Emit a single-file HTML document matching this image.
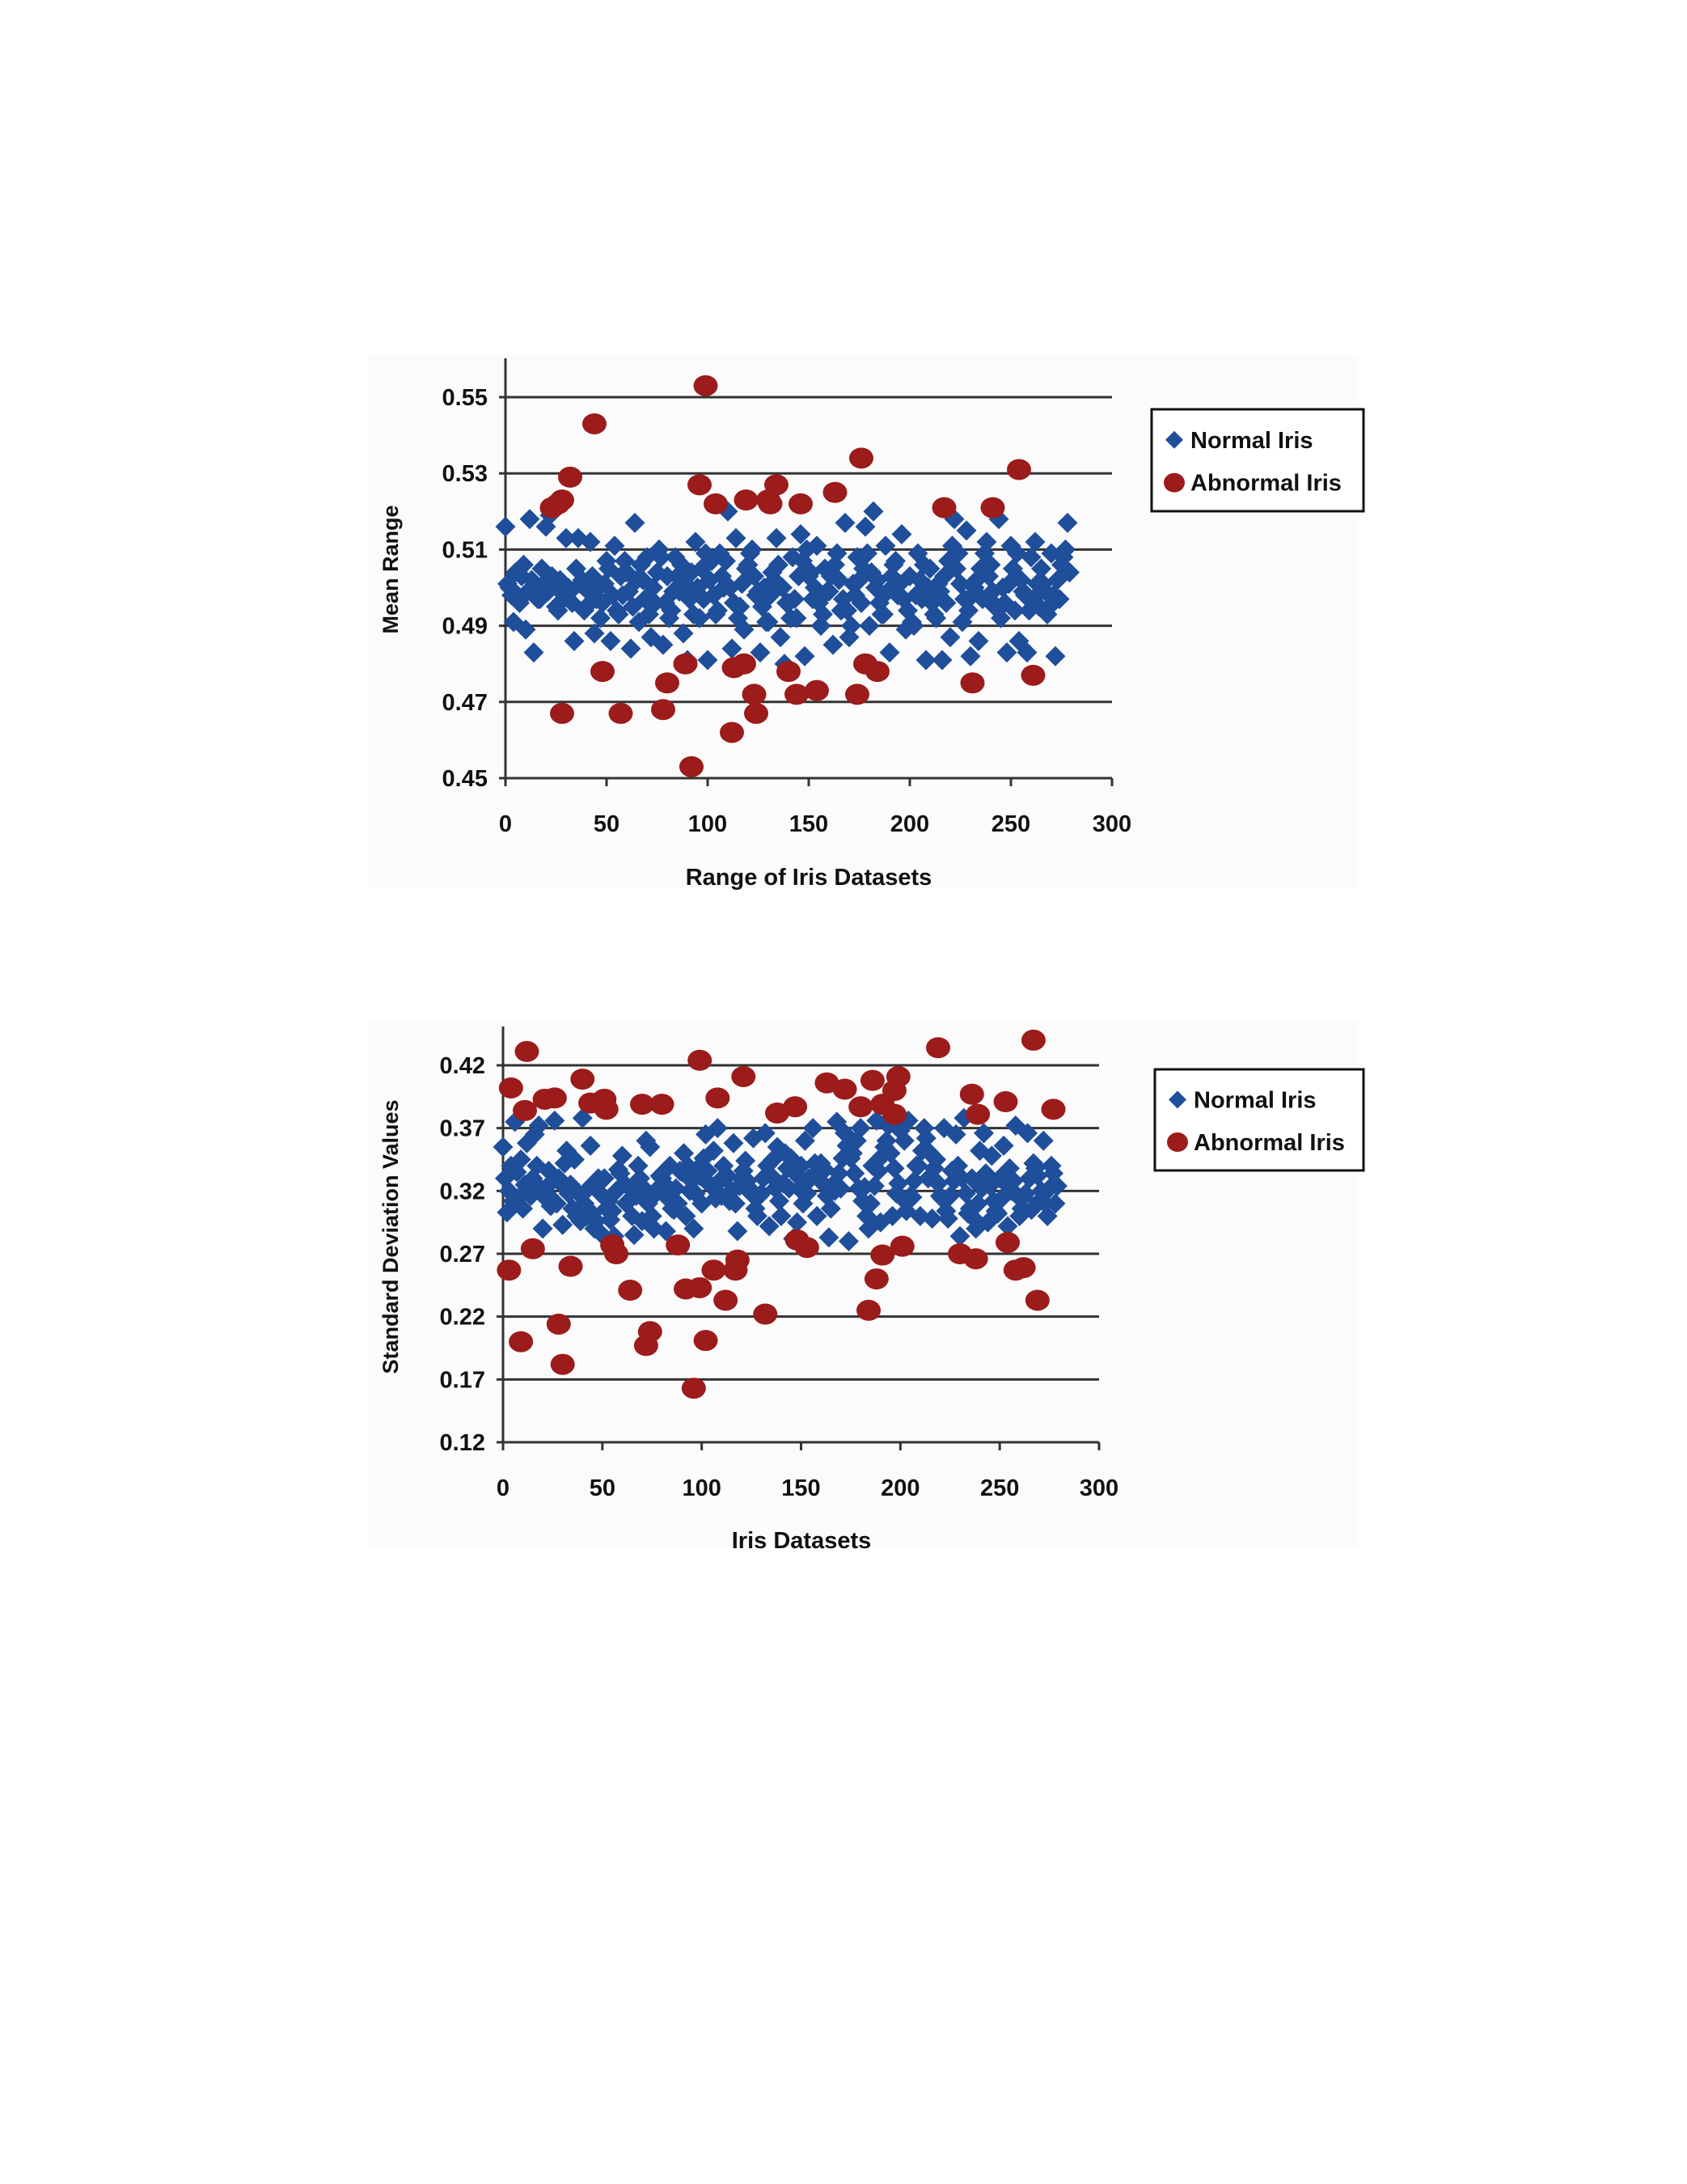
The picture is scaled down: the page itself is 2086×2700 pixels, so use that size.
<!DOCTYPE html>
<html><head><meta charset="utf-8"><style>
html,body{margin:0;padding:0;background:#fff;}
svg{display:block;}
text{font-family:"Liberation Sans",Arial,sans-serif;font-weight:bold;fill:#111;}
</style></head><body>
<svg id="root" width="2086" height="2700" viewBox="0 0 2086 2700" xmlns="http://www.w3.org/2000/svg">
<rect x="0" y="0" width="2086" height="2700" fill="#fff"/>
<rect x="455" y="438" width="1225" height="660" fill="#fbfbfb"/>
<rect x="455" y="1262" width="1225" height="650" fill="#fbfbfb"/>
<g id="c1"></g>
<g id="c2"></g>
</svg>
<script>
// ---- Chart 1 data ----
const xTicks = [0,50,100,150,200,250,300];
const c1YTicks = [0.45,0.47,0.49,0.51,0.53,0.55];
const c1YLabels = ["0.45","0.47","0.49","0.51","0.53","0.55"];
const c1NormalEven = [0.516,0.500,0.491,0.498,0.503,0.489,0.518,0.483,0.497,0.505,0.516,0.519,0.501,0.494,0.500,0.513,0.499,0.486,0.513,0.502,0.495,0.512,0.488,0.500,0.496,0.507,0.486,0.511,0.493,0.498,0.504,0.484,0.517,0.491,0.502,0.508,0.487,0.496,0.510,0.485,0.503,0.494,0.508,0.499,0.488,0.481,0.504,0.512,0.492,0.497,0.481,0.507,0.493,0.509,0.500,0.520,0.484,0.513,0.495,0.489,0.506,0.510,0.498,0.483,0.500,0.491,0.504,0.513,0.487,0.480,0.496,0.508,0.492,0.514,0.482,0.503,0.497,0.511,0.490,0.505,0.499,0.485,0.509,0.494,0.517,0.487,0.501,0.508,0.496,0.516,0.490,0.520,0.502,0.493,0.511,0.483,0.506,0.498,0.514,0.489,0.503,0.490,0.509,0.497,0.481,0.505,0.493,0.501,0.481,0.496,0.487,0.518,0.509,0.491,0.515,0.482,0.500,0.486,0.497,0.512,0.506,0.495,0.518,0.500,0.483,0.511,0.494,0.486,0.499,0.483,0.508,0.512,0.495,0.501,0.493,0.509,0.482,0.497,0.508,0.517];
const c1NormalOdd = [0.501,0.498,0.504,0.496,0.506,0.499,0.502,0.500,0.497,0.501,0.499,0.503,0.495,0.502,0.498,0.500,0.496,0.505,0.501,0.494,0.499,0.503,0.497,0.492,0.501,0.505,0.498,0.494,0.503,0.507,0.499,0.495,0.502,0.506,0.497,0.493,0.500,0.504,0.508,0.496,0.492,0.499,0.503,0.506,0.501,0.497,0.493,0.500,0.505,0.509,0.502,0.498,0.494,0.503,0.507,0.500,0.496,0.492,0.501,0.505,0.509,0.503,0.499,0.495,0.491,0.498,0.502,0.506,0.500,0.496,0.492,0.497,0.503,0.507,0.510,0.504,0.500,0.496,0.493,0.499,0.503,0.506,0.502,0.497,0.494,0.490,0.498,0.502,0.505,0.509,0.504,0.500,0.496,0.493,0.499,0.503,0.507,0.501,0.497,0.494,0.491,0.498,0.502,0.506,0.500,0.496,0.492,0.499,0.503,0.507,0.511,0.505,0.501,0.497,0.494,0.498,0.502,0.505,0.509,0.503,0.499,0.495,0.492,0.496,0.501,0.505,0.509,0.502,0.498,0.494,0.497,0.501,0.505,0.499,0.495,0.498,0.502,0.506,0.510,0.504];
const c1AbnX = [44,99,32,26,23,28,176,254,96,104,119,130,134,131,146,163,217,241,48,28,57,78,80,89,92,112,113,118,123,124,140,144,154,174,178,184,231,261];
const c1AbnY = [0.543,0.553,0.529,0.522,0.521,0.523,0.534,0.531,0.527,0.522,0.523,0.523,0.527,0.522,0.522,0.525,0.521,0.521,0.478,0.467,0.467,0.468,0.475,0.480,0.453,0.462,0.479,0.480,0.472,0.467,0.478,0.472,0.473,0.472,0.480,0.478,0.475,0.477];

// ---- Chart 2 data ----
const c2YTicks = [0.12,0.17,0.22,0.27,0.32,0.37,0.42];
const c2YLabels = ["0.12","0.17","0.22","0.27","0.32","0.37","0.42"];
const c2NormalEven = [0.355,0.303,0.340,0.375,0.315,0.306,0.358,0.316,0.365,0.372,0.290,0.318,0.308,0.376,0.330,0.293,0.352,0.325,0.345,0.318,0.378,0.300,0.356,0.290,0.330,0.285,0.306,0.297,0.284,0.337,0.348,0.310,0.322,0.285,0.340,0.296,0.360,0.355,0.290,0.322,0.330,0.288,0.340,0.305,0.310,0.335,0.300,0.320,0.290,0.338,0.310,0.365,0.325,0.352,0.370,0.316,0.330,0.312,0.358,0.288,0.330,0.344,0.322,0.362,0.300,0.318,0.366,0.292,0.345,0.355,0.300,0.350,0.322,0.282,0.295,0.340,0.360,0.330,0.370,0.300,0.342,0.337,0.283,0.325,0.375,0.322,0.366,0.280,0.350,0.360,0.370,0.323,0.290,0.340,0.376,0.295,0.355,0.372,0.300,0.318,0.368,0.360,0.376,0.315,0.340,0.300,0.370,0.330,0.298,0.345,0.316,0.370,0.298,0.336,0.365,0.284,0.378,0.302,0.330,0.290,0.352,0.366,0.295,0.348,0.304,0.330,0.356,0.292,0.320,0.372,0.300,0.315,0.366,0.305,0.338,0.312,0.360,0.300,0.340,0.310];
const c2NormalOdd = [0.330,0.320,0.312,0.335,0.345,0.325,0.318,0.330,0.340,0.322,0.315,0.336,0.328,0.310,0.326,0.342,0.318,0.306,0.300,0.296,0.310,0.322,0.302,0.296,0.318,0.330,0.312,0.304,0.320,0.334,0.326,0.312,0.300,0.316,0.330,0.322,0.310,0.300,0.318,0.332,0.326,0.314,0.306,0.322,0.336,0.350,0.340,0.328,0.318,0.332,0.346,0.336,0.324,0.314,0.328,0.340,0.332,0.320,0.310,0.324,0.336,0.328,0.318,0.306,0.316,0.330,0.340,0.332,0.322,0.312,0.326,0.338,0.346,0.334,0.322,0.310,0.318,0.330,0.342,0.336,0.326,0.316,0.306,0.320,0.334,0.346,0.356,0.346,0.334,0.322,0.312,0.300,0.310,0.324,0.336,0.348,0.360,0.350,0.338,0.326,0.314,0.304,0.316,0.328,0.340,0.352,0.362,0.350,0.338,0.326,0.314,0.304,0.316,0.328,0.340,0.330,0.318,0.306,0.298,0.310,0.322,0.334,0.324,0.312,0.302,0.314,0.326,0.338,0.328,0.316,0.306,0.318,0.330,0.342,0.332,0.320,0.310,0.322,0.334,0.324];
const c2AbnX = [4,12,11,15,3,9,28,30,21,26,34,40,44,51,52,55,57,64,70,80,72,74,88,92,99,99,96,102,106,108,112,117,118,121,132,138,147,148,153,163,172,180,186,184,188,191,191,197,199,197,201,219,230,236,239,238,253,254,258,262,267,269,277];
const c2AbnY = [0.402,0.431,0.384,0.274,0.257,0.200,0.214,0.182,0.393,0.394,0.260,0.409,0.390,0.393,0.385,0.277,0.270,0.241,0.389,0.389,0.197,0.208,0.277,0.242,0.243,0.424,0.163,0.201,0.257,0.394,0.233,0.257,0.265,0.411,0.222,0.382,0.387,0.281,0.275,0.406,0.401,0.387,0.408,0.225,0.250,0.269,0.389,0.400,0.411,0.381,0.276,0.434,0.270,0.397,0.381,0.266,0.391,0.279,0.257,0.259,0.440,0.233,0.385];

const NS = "http://www.w3.org/2000/svg";
const BLUE = "#1f4e9a", RED = "#9c1b1b";
function mk(tag, attrs, parent){const e=document.createElementNS(NS,tag);for(const k in attrs)e.setAttribute(k,attrs[k]);parent.appendChild(e);return e;}

function drawChart(g, cfg){
  const sx = v => cfg.x0 + (v - 0) / 300 * (cfg.x1 - cfg.x0);
  const sy = v => cfg.yb + (v - cfg.ymin) / (cfg.ymax - cfg.ymin) * (cfg.yt - cfg.yb);
  // gridlines + y labels
  cfg.yTicks.forEach((t,i)=>{
    const y = sy(t);
    if(i>0){
      const l = mk("line",{x1:cfg.x0-8,x2:cfg.x1,y1:y,y2:y,stroke:"#333","stroke-width":3},g);
      
      
    }
    const tx = mk("text",{x:cfg.x0-22,y:y+10,"text-anchor":"end","font-size":29},g);
    tx.textContent = cfg.yLabels[i];
    
    
  });
  // axes
  const ya = mk("line",{x1:cfg.x0,x2:cfg.x0,y1:cfg.ytop,y2:cfg.yb+8,stroke:"#333","stroke-width":3},g);
  
  
  const xa = mk("line",{x1:cfg.x0-8,x2:cfg.x1,y1:cfg.yb,y2:cfg.yb,stroke:"#333","stroke-width":3},g);
  
  
  xTicks.forEach(t=>{
    const x = sx(t);
    const tk = mk("line",{x1:x,x2:x,y1:cfg.yb,y2:cfg.yb+10,stroke:"#333","stroke-width":3},g);
    
    
    const tx = mk("text",{x:x,y:cfg.xLabY,"text-anchor":"middle","font-size":29},g);
    tx.textContent = String(t);
    
    
  });
  // normal points
  const drawDiamond = (xv,yv)=>{
    const x=sx(xv), y=sy(yv), r=12.5;
    const p = mk("polygon",{points:`${x},${y-r} ${x+r},${y} ${x},${y+r} ${x-r},${y}`,fill:BLUE},g);
    
    
  };
  cfg.nEven.forEach((v,i)=>drawDiamond(i*2, v));
  cfg.nOdd.forEach((v,i)=>drawDiamond(i*2+1, v));
  cfg.aX.forEach((xv,i)=>{
    const c = mk("ellipse",{cx:sx(xv),cy:sy(cfg.aY[i]),rx:15,ry:13,fill:RED},g);
    
    
  });
  // titles
  const xt = mk("text",{x:cfg.xTitleX,y:cfg.xTitleY,"text-anchor":"middle","font-size":29},g);
  xt.textContent = cfg.xTitle;
  
  
  const yt = mk("text",{x:0,y:0,"text-anchor":"middle","font-size":27,transform:`translate(${cfg.yTitleX},${cfg.yTitleY}) rotate(-90)`},g);
  yt.textContent = cfg.yTitle;
  
  
  // legend
  const lg = mk("g",{},g);
  
  
  mk("rect",{x:cfg.lx,y:cfg.ly,width:cfg.lw,height:cfg.lh,fill:"#fff",stroke:"#111","stroke-width":3},lg);
  const r1y = cfg.ly + cfg.lh*0.3, r2y = cfg.ly + cfg.lh*0.72;
  const dx = cfg.lx+28;
  mk("polygon",{points:`${dx},${r1y-11} ${dx+11},${r1y} ${dx},${r1y+11} ${dx-11},${r1y}`,fill:BLUE},lg);
  mk("ellipse",{cx:dx,cy:r2y,rx:13,ry:12,fill:RED},lg);
  const t1 = mk("text",{x:dx+20,y:r1y+10,"font-size":29},lg);
  t1.textContent = "Normal Iris";
  
  
  const t2 = mk("text",{x:dx+20,y:r2y+10,"font-size":29},lg);
  t2.textContent = "Abnormal Iris";
  
  
}

drawChart(document.getElementById('c1'),{
  x0:625,x1:1375,yb:962,yt:491,ymin:0.45,ymax:0.55,ytop:443,
  yTicks:c1YTicks,yLabels:c1YLabels,xLabY:1028,
  nEven:c1NormalEven,nOdd:c1NormalOdd,aX:c1AbnX,aY:c1AbnY,
  xTitle:"Range of Iris Datasets",xTitleX:1000,xTitleY:1094,
  yTitle:"Mean Range",yTitleX:492,yTitleY:704,
  lx:1424,ly:506,lw:262,lh:126
});
drawChart(document.getElementById('c2'),{
  x0:622,x1:1359,yb:1783,yt:1317,ymin:0.12,ymax:0.42,ytop:1269,
  yTicks:c2YTicks,yLabels:c2YLabels,xLabY:1849,
  nEven:c2NormalEven,nOdd:c2NormalOdd,aX:c2AbnX,aY:c2AbnY,
  xTitle:"Iris Datasets",xTitleX:991,xTitleY:1914,
  yTitle:"Standard Deviation Values",yTitleX:492,yTitleY:1529,
  lx:1428,ly:1322,lw:258,lh:125
});
</script>
</body></html>
